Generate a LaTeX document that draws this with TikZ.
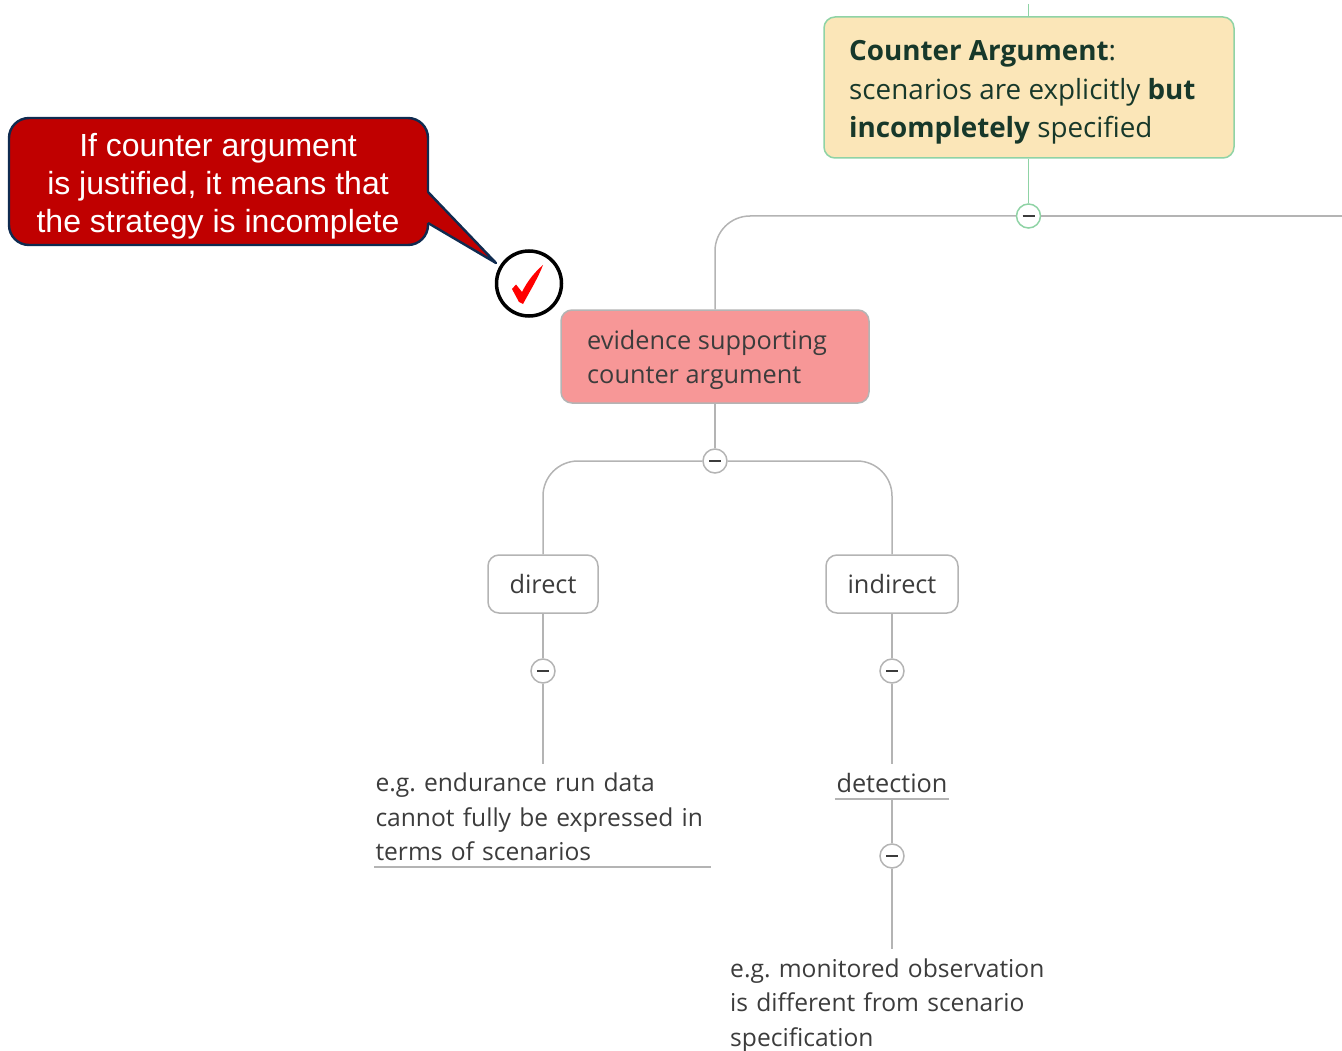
\documentclass[tikz,border=0pt]{standalone}
\usepackage{fontspec}
\setmainfont{Open Sans}
\newfontfamily\calloutfont{Liberation Sans}
\definecolor{linegray}{HTML}{B4B4B4}
\definecolor{linegreen}{HTML}{8FD3A5}
\definecolor{creamfill}{HTML}{FBE6B8}
\definecolor{pinkfill}{HTML}{F79797}
\definecolor{darkred}{HTML}{C00000}
\definecolor{darknavy}{HTML}{0F2B50}
\definecolor{textgray}{HTML}{3C3C3C}
\definecolor{textgreen}{HTML}{17382A}
\frenchspacing
\tikzset{
    mapfont/.style={font=\fontsize{25.3}{34.5}\selectfont, text=textgray, align=left},
    link/.style={draw=linegray, line width=1.5pt},
    greenlink/.style={draw=linegreen, line width=1.8pt},
    toggle/.style={circle, draw=linegray, fill=white, line width=1.5pt, minimum size=24pt, inner sep=0pt,
        path picture={\draw[textgray, line width=1.5pt] (-6pt,0) -- (6pt,0);}},
    topicbox/.style={mapfont, rectangle, rounded corners=11pt, draw=linegray, line width=1.5pt, inner sep=0pt},
    leaf/.style={mapfont, font=\fontsize{24.6}{34.5}\selectfont, rectangle, inner sep=0pt},
}
\begin{document}
\begin{tikzpicture}[x=1pt, y=-1pt]
    \useasboundingbox (0,0) rectangle (1342,1051);

    % callout
    \draw[fill=darkred, draw=darknavy, line width=2.4pt, rounded corners=20pt]
        (9,118) -- (428,118) -- (428,245) -- (9,245) -- cycle;
    \fill[darkred] (426,191) -- (496,263) -- (426,222) -- cycle;
    \draw[darknavy, line width=2.4pt, line join=round] (428,192) -- (496,263) -- (428,223);
    \node[font=\calloutfont\fontsize{32}{38}\selectfont, text=white, align=center, inner sep=0pt] (calloutText) at (218,186)
        {If counter argument\\is justified, it means that\\the strategy is incomplete};

    % check mark
    \node[circle, draw=black, line width=3.5pt, fill=white, minimum size=65pt, inner sep=0pt] (checkCircle) at (529,283.5) {};
    \fill[red] (512,289) -- (516,284.5) -- (522,292) .. controls (528,280) and (535,272) .. (543,265)
        .. controls (538,278) and (530,291) .. (523,304) -- (519,302) -- cycle;

    % topics
    \node[topicbox, draw=linegreen, fill=creamfill, minimum width=410pt, minimum height=141pt, text=textgreen] (counterArg) at (1029,87.5) {};
    \node[mapfont, text=textgreen, anchor=west, font=\fontsize{27.8}{38.5}\selectfont, inner sep=0pt] (counterText) at (849,92.5)
        {\textbf{Counter Argument}:\\scenarios are explicitly \textbf{but}\\\textbf{incompletely} specified};
    \node[topicbox, fill=pinkfill, minimum width=308pt, minimum height=93pt] (evidence) at (715,356.5) {};
    \node[mapfont, anchor=west, inner sep=0pt] (evidenceText) at (587,360) {evidence supporting\\counter argument};
    \node[topicbox, minimum width=110pt, minimum height=58pt] (direct) at (543,584) {direct};
    \node[topicbox, minimum width=132pt, minimum height=58pt] (indirect) at (892,584) {indirect};

    % leaves
    \node[leaf, text width=337pt, minimum height=103pt] (endurance) at (542.5,817)
        {\hspace{1.5pt}e.g. endurance run data\\\hspace{1.5pt}cannot fully be expressed in\\\hspace{1.5pt}terms of scenarios};
    \coordinate (enduranceLineL) at (374,867);
    \coordinate (enduranceLineR) at (711,867);
    \node[mapfont, inner sep=0pt, minimum width=114pt, minimum height=35pt, align=center] (detection) at (892,781.5) {};
    \node[mapfont, inner sep=0pt] (detectionText) at (892,783.5) {detection};
    \node[leaf, text width=330pt, minimum height=102pt, anchor=north west] (monitored) at (730,954)
        {e.g. monitored observation\\is different from scenario\\specification};
    \coordinate (monitoredTop) at (892,949);

    % toggles
    \node[toggle, draw=linegreen] (toggleCounter) at (1028.5,216) {};
    \node[toggle] (toggleEvidence) at (715,461) {};
    \node[toggle] (toggleDirect) at (543,671) {};
    \node[toggle] (toggleIndirect) at (892,671) {};
    \node[toggle] (toggleDetection) at (892,856) {};
    \coordinate (topEnd) at (1028.5,4);
    \coordinate (rightEnd) at (1342,216);
    \coordinate (enduranceTop) at (543,764);

    % connectors
    \draw[greenlink] (topEnd) -- (topEnd |- counterArg.north);
    \draw[greenlink] (toggleCounter |- counterArg.south) -- (toggleCounter);
    \draw[link] (toggleCounter) -- (rightEnd);
    \draw[link, rounded corners=35pt] (toggleCounter.west) -| (evidence.north);
    \draw[link] (evidence.south) -- (toggleEvidence);
    \draw[link, rounded corners=35pt] (toggleEvidence.west) -| (direct.north);
    \draw[link, rounded corners=35pt] (toggleEvidence.east) -| (indirect.north);
    \draw[link] (direct.south) -- (toggleDirect);
    \draw[link] (indirect.south) -- (toggleIndirect);
    \draw[link] (toggleDirect) -- (enduranceTop);
    \draw[link] (toggleIndirect) -- (detection.north);
    \draw[link] (detection.south) -- (toggleDetection);
    \draw[link] (toggleDetection) -- (monitoredTop);
    \draw[link] (enduranceLineL) -- (enduranceLineR);
    \draw[link] (detection.south west) -- (detection.south east);
\end{tikzpicture}
\end{document}
